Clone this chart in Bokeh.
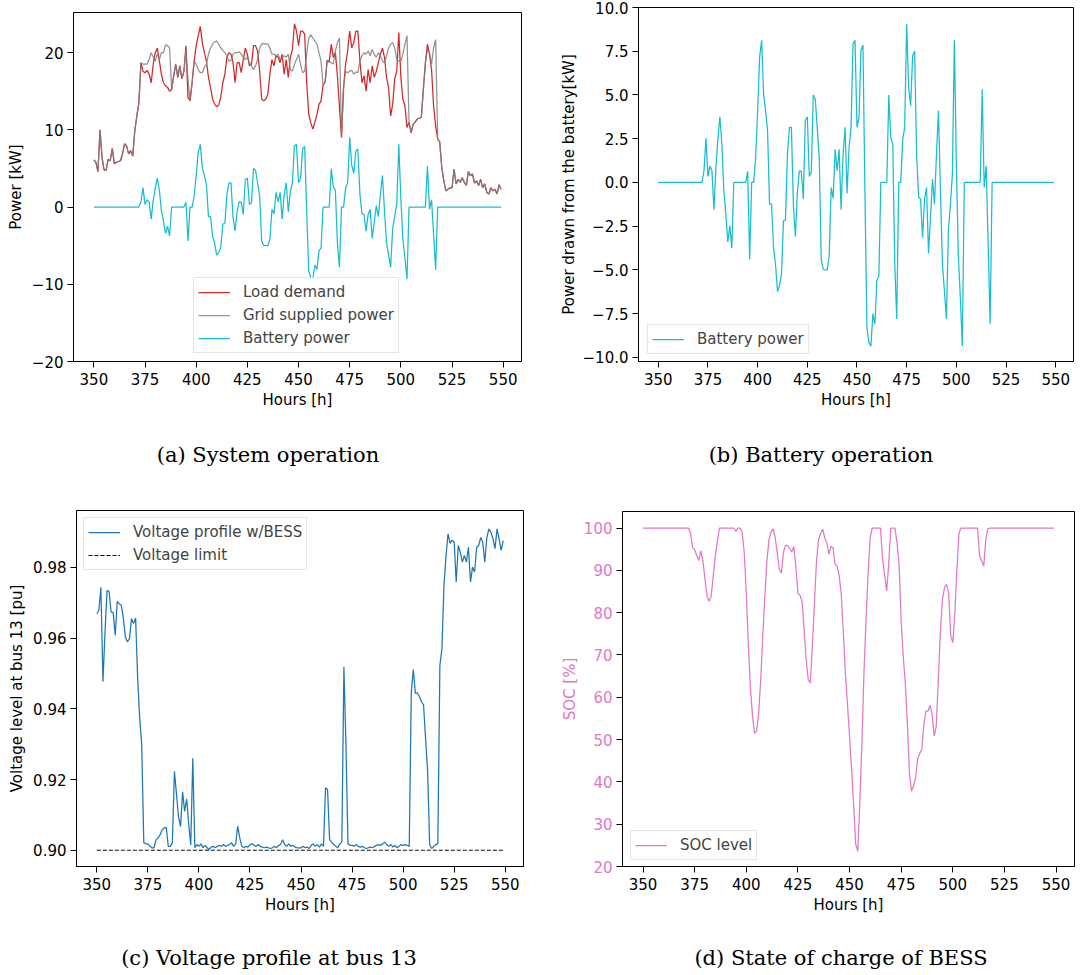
from bokeh.plotting import figure
from bokeh.layouts import column, row
from bokeh.models import (Range1d, FixedTicker, CustomJSTickFormatter,
                          Legend, LegendItem, Div)
from bokeh.embed import file_html
from bokeh.resources import INLINE

# ---------------------------------------------------------------- data
hours = list(range(350, 550))

load_demand = [
    6.1, 5.8, 4.6, 10.0, 6.4, 4.8, 4.8, 6.2, 6.0, 7.6,
    5.6, 5.8, 5.9, 6.0, 6.9, 8.2, 7.9, 6.9, 7.3, 6.6,
    9.9, 11.8, 13.5, 18.7, 17.6, 17.4, 17.7, 17.2, 16.1, 18.5,
    20.0, 20.6, 18.9, 17.2, 16.1, 15.7, 15.5, 15.0, 15.2, 17.0,
    18.5, 16.8, 18.3, 16.6, 17.6, 20.9, 14.2, 13.75, 16.1, 18.9,
    20.9, 22.2, 23.4, 21.3, 20.0, 18.9, 16.8, 15.5, 14.0, 13.3,
    13.0, 13.2, 14.2, 16.1, 17.2, 19.4, 20.0, 19.8, 18.7, 16.1,
    18.7, 18.7, 17.4, 19.1, 20.6, 19.8, 18.3, 18.5, 20.9, 20.9,
    20.2, 17.6, 14.0, 13.75, 14.0, 14.6, 17.2, 19.1, 18.3, 19.6,
    19.4, 18.7, 19.8, 17.2, 19.1, 16.8, 19.4, 20.4, 23.75, 22.8,
    20.9, 22.8, 22.8, 22.4, 16.0, 12.0, 10.9, 10.1, 11.0, 12.0,
    13.3, 13.75, 15.8, 16.2, 19.0, 18.8, 21.1, 19.4, 20.0, 17.0,
    13.0, 9.0, 15.5, 18.5, 20.2, 22.8, 20.6, 21.3, 22.8, 22.8,
    18.9, 16.1, 17.0, 15.0, 17.8, 16.1, 18.3, 16.8, 17.6, 18.7,
    19.8, 20.6, 19.4, 16.8, 15.5, 11.8, 13.3, 16.6, 17.6, 22.6,
    16.8, 14.0, 13.1, 10.3, 11.0, 9.6, 10.7, 11.0, 11.4, 11.5,
    11.6, 15.3, 18.7, 21.1, 19.8, 17.8, 13.1, 10.5, 8.8, 8.4,
    5.1, 3.4, 2.1, 2.3, 2.5, 2.5, 4.9, 3.0, 3.6, 3.2,
    3.8, 3.2, 2.8, 4.6, 4.05, 4.3, 3.1, 3.4, 2.8, 3.6,
    2.5, 3.0, 1.9, 1.7, 2.5, 2.1, 2.3, 1.7, 2.9, 2.3,
]

grid_power = [
    6.1, 5.8, 4.6, 10.0, 6.4, 4.8, 4.8, 6.2, 6.0, 7.6,
    5.6, 5.8, 5.9, 6.0, 6.9, 8.2, 7.9, 6.9, 7.3, 6.6,
    9.9, 11.8, 13.5, 18.7, 18.5, 18.5, 18.5, 19.1, 20.0, 19.4,
    18.9, 19.8, 19.1, 20.0, 20.0, 21.0, 20.9, 20.6, 15.2, 17.0,
    18.5, 16.8, 18.3, 16.6, 17.6, 20.3, 16.5, 13.75, 16.1, 18.9,
    18.5, 17.8, 17.4, 17.4, 18.1, 18.5, 19.8, 20.6, 21.1, 21.4,
    21.5, 21.1, 20.6, 20.3, 20.0, 19.6, 18.9, 19.0, 19.8, 20.0,
    20.0, 20.1, 19.8, 19.4, 19.1, 19.4, 18.7, 18.3, 17.8, 18.3,
    19.1, 20.6, 21.1, 21.2, 21.1, 21.1, 20.6, 19.8, 19.8, 19.6,
    19.8, 19.1, 19.4, 19.6, 19.4, 19.8, 17.8, 17.6, 18.5, 19.1,
    19.8, 18.5, 17.4, 17.6, 19.8, 21.9, 22.3, 21.9, 21.5, 21.1,
    20.0, 18.9, 15.8, 16.2, 19.0, 18.8, 18.7, 18.5, 20.2, 21.3,
    21.9, 9.0, 15.5, 17.6, 17.4, 17.6, 17.7, 17.2, 17.5, 17.4,
    18.9, 19.6, 20.0, 19.8, 20.2, 19.6, 20.4, 19.8, 19.4, 20.0,
    19.6, 18.9, 18.7, 19.6, 20.6, 21.1, 21.3, 20.6, 19.1, 18.9,
    18.9, 19.8, 21.1, 22.2, 11.0, 9.6, 10.7, 11.0, 11.4, 11.5,
    11.6, 15.3, 18.7, 20.4, 20.0, 18.5, 20.6, 21.7, 8.8, 8.4,
    5.1, 3.4, 2.1, 2.3, 2.5, 2.5, 4.9, 3.0, 3.6, 3.2,
    3.8, 3.2, 2.8, 4.6, 4.05, 4.3, 3.1, 3.4, 2.8, 3.6,
    2.5, 3.0, 1.9, 1.7, 2.5, 2.1, 2.3, 1.7, 2.9, 2.3,
]

battery_power = [
    0, 0, 0, 0, 0, 0, 0, 0, 0, 0,
    0, 0, 0, 0, 0, 0, 0, 0, 0, 0,
    0, 0, 0, 0.67, 2.52, 0.34, 0.95, 0.67, -1.56, 0.86,
    2.48, 3.76, 2.2, -0.48, -1.8, -3.4, -2.48, -3.75, 0, 0,
    0, 0, 0, 0, 0, 0.63, -4.39, 0, 0, 1.43,
    4.1, 7.15, 8.13, 5.05, 4.1, 2.95, -1.24, -1.24, -3.7, -4.67,
    -6.23, -5.9, -5.24, -2.19, -2.15, 1.62, 3.15, 3.15, -1.33, -3.1,
    -0.57, 0.67, 0.63, -0.95, 3.53, 3.76, 0.34, 0.57, 5.0, 4.76,
    3.15, 1.43, -4.39, -4.96, -5.0, -5.0, -4.2, -0.29, -0.9, 1.9,
    0.67, 1.9, -1.56, 1.62, 3.15, -0.63, 2.0, 3.15, 7.9, 8.13,
    3.15, 3.7, 7.57, 7.85, -0.6, -8.3, -9.15, -9.35, -7.5, -8.1,
    -5.6, -5.33, 0, 0, 0, 0, 5.0, 2.57, 2.2, -4.67,
    -7.8, 0, 0, 2.48, 3.15, 9.05, 5.43, 4.38, 7.24, 7.52,
    1.62, -0.86, -0.95, -3.15, -0.95, -0.29, -4.05, -2.0, 0.19, -1.24,
    1.62, 4.1, -0.48, -4.67, -6.2, -7.8, -2.76, -1.24, 0.48, 8.13,
    1.05, -4.2, -6.57, -9.35, 0, 0, 0, 0, 0, 0,
    0, 0, 0, 5.33, -0.29, 0.95, -3.5, -8.1, 0, 0,
    0, 0, 0, 0, 0, 0, 0, 0, 0, 0,
    0, 0, 0, 0, 0, 0, 0, 0, 0, 0,
    0, 0, 0, 0, 0, 0, 0, 0, 0, 0,
]

voltage_bus13 = [
    0.9669, 0.9679, 0.9744, 0.9477, 0.9615, 0.9735, 0.9732, 0.9674, 0.9672, 0.9608,
    0.9704, 0.9697, 0.9693, 0.9655, 0.9603, 0.9589, 0.9599, 0.9655, 0.9641, 0.9657,
    0.9486, 0.9373, 0.9298, 0.9021, 0.9018, 0.9018, 0.9011, 0.9007, 0.9007, 0.9030,
    0.9035, 0.9044, 0.9058, 0.9063, 0.9065, 0.9011, 0.9011, 0.9021, 0.9223, 0.9160,
    0.9095, 0.9067, 0.9165, 0.9110, 0.9145, 0.9075, 0.9015, 0.9260, 0.9007, 0.9016,
    0.9011, 0.9018, 0.9007, 0.9014, 0.9007, 0.9002, 0.9009, 0.9011, 0.9007, 0.9011,
    0.9014, 0.9011, 0.9016, 0.9011, 0.9014, 0.9016, 0.9021, 0.9011, 0.9018, 0.9068,
    0.9035, 0.9011, 0.9007, 0.9011, 0.9009, 0.9016, 0.9018, 0.9014, 0.9011, 0.9016,
    0.9011, 0.9009, 0.9007, 0.9009, 0.9007, 0.9005, 0.9007, 0.9011, 0.9007, 0.9014,
    0.9016, 0.9030, 0.9016, 0.9011, 0.9018, 0.9011, 0.9014, 0.9009, 0.9007, 0.9007,
    0.9007, 0.9011, 0.9007, 0.9009, 0.9005, 0.9014, 0.9018, 0.9011, 0.9016, 0.9009,
    0.9018, 0.9011, 0.9177, 0.9171, 0.9030, 0.9023, 0.9016, 0.9011, 0.9007, 0.9018,
    0.9023, 0.9519, 0.9300, 0.9018, 0.9014, 0.9014, 0.9011, 0.9016, 0.9011, 0.9009,
    0.9011, 0.9007, 0.9005, 0.9007, 0.9009, 0.9007, 0.9011, 0.9014, 0.9016, 0.9014,
    0.9018, 0.9023, 0.9016, 0.9011, 0.9016, 0.9009, 0.9014, 0.9007, 0.9011, 0.9016,
    0.9014, 0.9016, 0.9014, 0.9011, 0.9448, 0.9511, 0.9444, 0.9445, 0.9434, 0.9420,
    0.9411, 0.9317, 0.9223, 0.9016, 0.9005, 0.9011, 0.9016, 0.9018, 0.9523, 0.9570,
    0.9748, 0.9833, 0.9895, 0.9868, 0.9877, 0.9872, 0.9759, 0.9862, 0.9843, 0.9815,
    0.9834, 0.9815, 0.9857, 0.9759, 0.9801, 0.9787, 0.9857, 0.9862, 0.9885, 0.9871,
    0.9815, 0.9885, 0.9909, 0.9899, 0.9881, 0.9853, 0.9909, 0.9881, 0.9848, 0.9876,
]
voltage_limit = 0.90

soc_level = [
    100, 100, 100, 100, 100, 100, 100, 100, 100, 100,
    100, 100, 100, 100, 100, 100, 100, 100, 100, 100,
    100, 100, 100, 98.8, 95.3, 94.9, 93.5, 92.3, 94.6, 92.2,
    87.9, 83.9, 82.7, 83.9, 88.7, 93.4, 96.9, 100, 100, 100,
    100, 100, 100, 100, 100, 99.2, 100, 100, 99.0, 94.2,
    84.7, 72.5, 62.3, 55.6, 51.5, 52.0, 56.3, 64.2, 74.5, 83.9,
    92.2, 97.3, 99.1, 99.8, 97.7, 94.2, 90.2, 89.4, 94.2, 95.9,
    95.9, 95.1, 94.3, 95.6, 91.0, 84.6, 84.1, 82.7, 76.0, 69.0,
    64.2, 63.4, 72.1, 82.3, 92.2, 97.3, 98.7, 99.7, 97.7, 96.5,
    93.8, 95.7, 95.4, 91.4, 91.0, 88.7, 84.3, 75.3, 65.8, 58.3,
    50.8, 42.9, 34.3, 25.2, 23.6, 35.1, 49.3, 65.8, 78.4, 89.4,
    97.7, 100, 100, 100, 100, 100, 92.6, 89.0, 85.1, 91.8,
    100, 100, 100, 96.5, 91.4, 78.0, 69.7, 63.4, 54.0, 42.2,
    37.8, 39.0, 41.0, 45.5, 46.7, 47.7, 53.6, 56.7, 56.7, 58.1,
    56.0, 50.8, 53.2, 64.2, 75.3, 83.1, 85.9, 86.7, 84.7, 74.5,
    72.9, 80.0, 90.2, 98.9, 100, 100, 100, 100, 100, 100,
    100, 100, 100, 93.4, 92.2, 91.0, 97.3, 99.8, 100, 100,
    100, 100, 100, 100, 100, 100, 100, 100, 100, 100,
    100, 100, 100, 100, 100, 100, 100, 100, 100, 100,
    100, 100, 100, 100, 100, 100, 100, 100, 100, 100,
]

x_ticks = [350, 375, 400, 425, 450, 475, 500, 525, 550]
power_ticks = [-20, -10, 0, 10, 20]
battery_ticks = [-10.0, -7.5, -5.0, -2.5, 0.0, 2.5, 5.0, 7.5, 10.0]
voltage_ticks = [0.90, 0.92, 0.94, 0.96, 0.98]
soc_ticks = [20, 30, 40, 50, 60, 70, 80, 90, 100]

captions = ["(a) System operation", "(b) Battery operation",
            "(c) Voltage profile at bus 13", "(d) State of charge of BESS"]

# ---------------------------------------------------------------- style
FONT = "DejaVu Sans"
TEXT_SIZE = "15px"
RED = "#d62728"
GRAY = "#7f7f7f"
CYAN = "#17becf"
BLUE = "#1f77b4"
PINK = "#e377c2"
LW = 1.25


def signed_format(decimals):
    code = ("const s = Math.abs(tick).toFixed(%d);"
            "return (tick < -1e-9 ? '\u2212' : '') + s;" % decimals)
    return CustomJSTickFormatter(code=code)


def panel(frame_w, frame_h, left, right, top, bottom, y_lo, y_hi):
    p = figure(frame_width=frame_w, frame_height=frame_h,
               min_border_left=left, min_border_right=right,
               min_border_top=top, min_border_bottom=bottom,
               x_range=Range1d(340.05, 558.95), y_range=Range1d(y_lo, y_hi),
               output_backend="svg", toolbar_location=None)
    p.xgrid.visible = False
    p.ygrid.visible = False
    p.outline_line_color = "black"
    p.outline_line_width = 1
    p.outline_line_alpha = 1
    p.background_fill_color = "white"
    p.border_fill_color = "white"
    for ax in (p.xaxis[0], p.yaxis[0]):
        ax.axis_line_color = "black"
        ax.major_tick_line_color = "black"
        ax.major_tick_out = 6
        ax.major_tick_in = 0
        ax.minor_tick_line_color = None
        ax.major_label_text_font = FONT
        ax.major_label_text_font_size = TEXT_SIZE
        ax.major_label_text_color = "black"
        ax.axis_label_text_font = FONT
        ax.axis_label_text_font_size = TEXT_SIZE
        ax.axis_label_text_font_style = "normal"
        ax.axis_label_text_color = "black"
    p.xaxis.ticker = FixedTicker(ticks=x_ticks)
    p.xaxis.axis_label = "Hours [h]"
    p.xaxis.major_label_standoff = 5
    p.xaxis.axis_label_standoff = 3
    p.yaxis.major_label_standoff = 4
    return p


def add_legend(p, items, loc):
    lg = Legend(items=[LegendItem(label=t, renderers=[r]) for t, r in items],
                location=loc)
    lg.label_text_font = FONT
    lg.label_text_font_size = TEXT_SIZE
    lg.glyph_width = 32
    lg.glyph_height = 20
    lg.label_height = 20
    lg.label_standoff = 13
    lg.spacing = 3
    lg.padding = 4
    lg.margin = 0
    lg.border_line_color = "#cccccc"
    lg.border_line_width = 1
    lg.background_fill_alpha = 0.8
    p.add_layout(lg)


def caption_box(text, box_w, box_h, center_x, center_y):
    # a centred serif caption block below a sub-figure
    html = ('<div style="font-family:\'DejaVu Serif\';font-size:21px;'
            'line-height:24px;color:black;text-align:center;white-space:nowrap;'
            'width:%dpx;padding-top:%dpx;">%s</div>'
            % (2 * center_x, center_y - 12, text))
    return Div(text=html, width=box_w, height=box_h, margin=0)


# (a) System operation
pa = panel(448, 349, 73, 32, 12, 60, -20, 25.2)
pa.yaxis.ticker = FixedTicker(ticks=power_ticks)
pa.yaxis.formatter = signed_format(0)
pa.yaxis.axis_label = "Power [kW]"
pa.yaxis.axis_label_standoff = 4
ra1 = pa.line(hours, load_demand, line_color=RED, line_width=LW)
ra2 = pa.line(hours, grid_power, line_color=GRAY, line_width=LW, line_alpha=0.85)
ra3 = pa.line(hours, battery_power, line_color=CYAN, line_width=LW)
add_legend(pa, [("Load demand", ra1), ("Grid supplied power", ra2),
                ("Battery power", ra3)], (120, 8))

# (b) Battery operation
pb = panel(435, 354, 85, 8, 7, 60, -10.23, 10.0)
pb.yaxis.ticker = FixedTicker(ticks=battery_ticks)
pb.yaxis.formatter = signed_format(1)
pb.yaxis.axis_label = "Power drawn from the battery[kW]"
pb.yaxis.axis_label_standoff = 2
rb = pb.line(hours, battery_power, line_color=CYAN, line_width=LW)
add_legend(pb, [("Battery power", rb)], (9, 7))

# (c) Voltage profile at bus 13
pc = panel(447, 356, 76, 24, 15, 60, 0.8954, 0.9961)
pc.yaxis.ticker = FixedTicker(ticks=voltage_ticks)
pc.yaxis.formatter = signed_format(2)
pc.yaxis.axis_label = "Voltage level at bus 13 [pu]"
pc.yaxis.axis_label_standoff = 4
rc1 = pc.line(hours, voltage_bus13, line_color=BLUE, line_width=LW)
rc2 = pc.line(hours, [voltage_limit] * len(hours), line_color="black",
              line_width=1, line_dash="4 2")
add_legend(pc, [("Voltage profile w/BESS", rc1), ("Voltage limit", rc2)], (7, 296))

# (d) State of charge of BESS
pd = panel(452, 355, 75, 7, 16, 60, 20.0, 103.9)
pd.yaxis.ticker = FixedTicker(ticks=soc_ticks)
pd.yaxis.formatter = signed_format(0)
pd.yaxis.axis_label = "SOC [%]"
pd.yaxis.axis_label_standoff = 2
pd.yaxis.major_label_text_color = PINK
pd.yaxis.axis_label_text_color = PINK
rd = pd.line(hours, soc_level, line_color=PINK, line_width=LW)
add_legend(pd, [("SOC level", rd)], (8, 6))

# captions under each sub-figure
cap_a = caption_box(captions[0], 553, 74, 268, 34)
cap_b = caption_box(captions[1], 528, 74, 268, 34)
cap_c = caption_box(captions[2], 547, 49, 269, 32)
cap_d = caption_box(captions[3], 534, 49, 294, 32)

# each sub-figure sits in its own column so the panels keep their own frames
top_row = row(column(pa, cap_a), column(pb, cap_b))
bottom_row = row(column(pc, cap_c), column(pd, cap_d))
layout = column(top_row, bottom_row)

open("out.html", "w").write(file_html(layout, INLINE))
